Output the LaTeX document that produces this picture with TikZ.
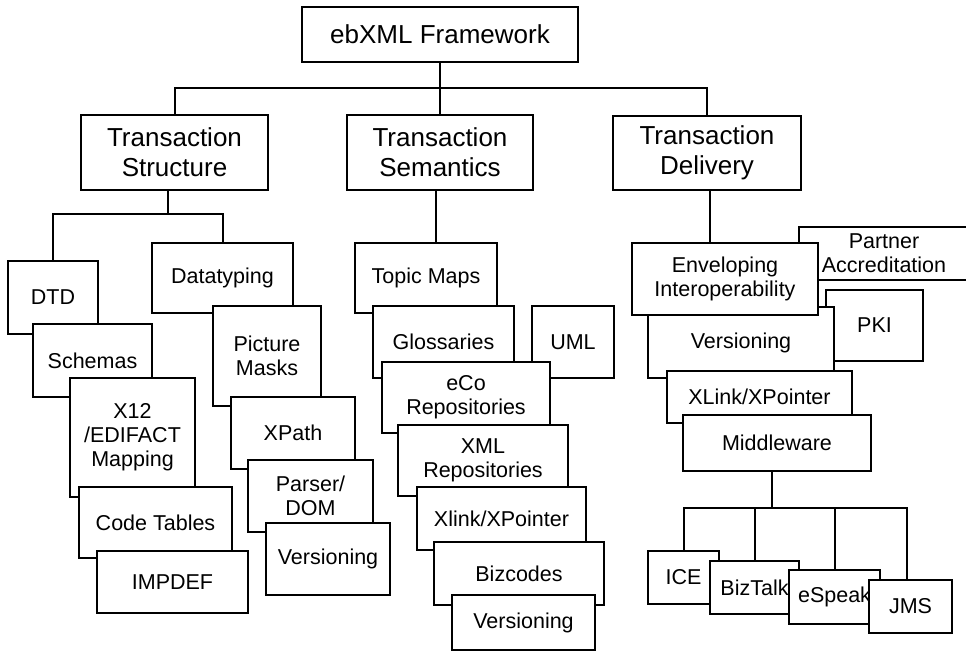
\documentclass[tikz,border=0pt]{standalone}
\usepackage{fontspec}
\setmainfont{Liberation Sans}
\begin{document}
\begin{tikzpicture}[x=1pt,y=-1pt,line width=2pt,
  box/.style={draw,fill=white,rectangle,inner sep=0pt,align=center,font=\fontsize{21.5}{24}\selectfont},
  topbox/.style={box,font=\fontsize{26}{30}\selectfont}]
\useasboundingbox (0,0) rectangle (966,651);
\node[topbox, minimum width=276, minimum height=55](fw) at (440,34.5){ebXML Framework};
\node[topbox, minimum width=187, minimum height=75](ts) at (174.5,152.5){Transaction\\Structure};
\node[topbox, minimum width=186, minimum height=75](tsem) at (440,152.5){Transaction\\Semantics};
\node[topbox, minimum width=188, minimum height=74](td) at (707,153){Transaction\\Delivery};
\coordinate (jfw) at (440,88);
\draw (fw.south) -- (jfw);
\draw (ts.north) |- (jfw) -| (td.north);
\draw (tsem.north) -- (tsem.north |- jfw);
\node[box, minimum width=90, minimum height=73](dtd) at (53,297.5){DTD};
\node[box, minimum width=141, minimum height=70](dtyp) at (222.5,278){Datatyping};
\node[box, minimum width=119, minimum height=73](sch) at (92.5,360.5){Schemas};
\node[box, minimum width=108, minimum height=100](pic) at (267,356){Picture\\Masks};
\node[box, minimum width=125, minimum height=119](x12) at (132.5,437.5){X12\\/EDIFACT\\Mapping};
\node[box, minimum width=124, minimum height=72](xpath) at (293,433){XPath};
\node[box, minimum width=153, minimum height=71](code) at (155.5,522.5){Code Tables};
\node[box, minimum width=125, minimum height=72](parser) at (310.5,496){Parser/\\DOM};
\node[box, minimum width=151, minimum height=62](impdef) at (172.5,582){IMPDEF};
\node[box, minimum width=124, minimum height=72](verl) at (328,559){Versioning};
\coordinate (jts) at (168,214);
\draw (ts.south -| jts) -- (jts);
\draw (dtd.north) |- (jts) -| (dtyp.north);
\node[box, minimum width=142, minimum height=70](topic) at (426,278){Topic Maps};
\node[box, minimum width=141, minimum height=72](gloss) at (443.5,342){Glossaries};
\node[box, minimum width=82, minimum height=72](uml) at (573,342){UML};
\node[box, minimum width=168, minimum height=71](eco) at (466,397.5){eCo\\Repositories};
\node[box, minimum width=170, minimum height=71](xmlr) at (483,460.5){XML\\Repositories};
\node[box, minimum width=169, minimum height=63](xlm) at (501.5,518.5){Xlink/XPointer};
\node[box, minimum width=170, minimum height=63](bizc) at (519,573.5){Bizcodes};
\node[box, minimum width=143, minimum height=55](verm) at (523.5,622.5){Versioning};
\draw ([xshift=-4pt]tsem.south) -- ([xshift=-4pt]tsem.south |- topic.north);
\node[box, minimum width=170, minimum height=53](partner) at (884,253.5){Partner\\Accreditation};
\node[box, minimum width=97, minimum height=71](pki) at (874.5,325.5){PKI};
\node[box, minimum width=186, minimum height=71](verr) at (741,342.5){Versioning};
\node[box, minimum width=186, minimum height=72](env) at (725,279){Enveloping\\Interoperability};
\node[box, minimum width=185, minimum height=52](xlr) at (759.5,397){XLink/XPointer};
\node[box, minimum width=188, minimum height=56](mw) at (777,443){Middleware};
\node[box, minimum width=71, minimum height=53](ice) at (683.5,577.5){ICE};
\node[box, minimum width=89, minimum height=53](btalk) at (754.5,587.5){BizTalk};
\node[box, minimum width=91, minimum height=54](espk) at (834.5,597){eSpeak};
\node[box, minimum width=83, minimum height=53](jms) at (910.5,606.5){JMS};
\draw ([xshift=3pt]td.south) -- ([xshift=3pt]td.south |- env.north);
\coordinate (jmw) at (772,508);
\draw (mw.south -| jmw) -- (jmw);
\draw (ice.north) |- (jmw) -| ([xshift=-4pt]jms.north);
\draw (btalk.north) -- (btalk.north |- jmw);
\draw (espk.north) -- (espk.north |- jmw);
\end{tikzpicture}
\end{document}
